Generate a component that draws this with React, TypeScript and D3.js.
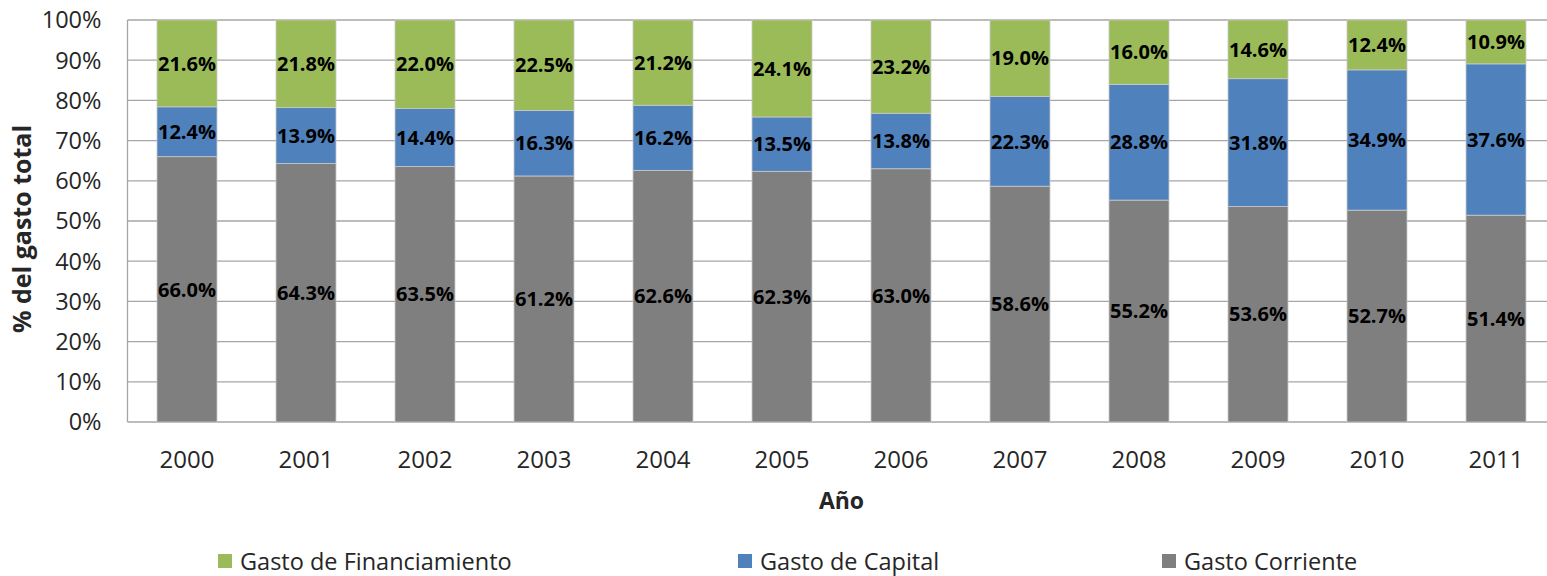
import React from 'react';
import * as d3 from 'd3';

const years = ['2000', '2001', '2002', '2003', '2004', '2005', '2006', '2007', '2008', '2009', '2010', '2011'];
const gastoCorriente = [66.0, 64.3, 63.5, 61.2, 62.6, 62.3, 63.0, 58.6, 55.2, 53.6, 52.7, 51.4];
const gastoCapital = [12.4, 13.9, 14.4, 16.3, 16.2, 13.5, 13.8, 22.3, 28.8, 31.8, 34.9, 37.6];
const gastoFinanciamiento = [21.6, 21.8, 22.0, 22.5, 21.2, 24.1, 23.2, 19.0, 16.0, 14.6, 12.4, 10.9];
const yTicks = [0, 0.1, 0.2, 0.3, 0.4, 0.5, 0.6, 0.7, 0.8, 0.9, 1];

const seriesKeys = ['corriente', 'capital', 'financiamiento'];
const seriesNames = {
  corriente: 'Gasto Corriente',
  capital: 'Gasto de Capital',
  financiamiento: 'Gasto de Financiamiento',
};
const colors = {
  corriente: '#7f7f7f',
  capital: '#4f81bd',
  financiamiento: '#9bbb59',
};

const W = 1547;
const H = 576;
const margin = { left: 127.5, top: 20, bottom: 154 };
const plotW = 12 * 119;
const plotH = H - margin.top - margin.bottom;
const FONT = '"Open Sans", Lato, sans-serif';

const App = () => {
  const table = years.map((y, i) => ({
    year: y,
    corriente: gastoCorriente[i],
    capital: gastoCapital[i],
    financiamiento: gastoFinanciamiento[i],
  }));
  // 100% stacked, like the original
  const stacked = d3.stack().keys(seriesKeys).offset(d3.stackOffsetExpand)(table as any);

  const x = d3.scaleBand().domain(years).range([0, plotW]).paddingInner(0.496).paddingOuter(0.248);
  const y = d3.scaleLinear().domain([0, 1]).range([plotH, 0]);
  const fmt = d3.format('.0%');

  const legendItems = [
    { key: 'financiamiento', x: 218 },
    { key: 'capital', x: 738 },
    { key: 'corriente', x: 1162 },
  ];

  return (
    <svg width={W} height={H} style={{ position: 'absolute', left: 0, top: 0, fontFamily: FONT }}>
      <rect width={W} height={H} fill="#fff" />
      <g transform={`translate(${margin.left},${margin.top})`}>
        {yTicks.map((t) => (
          <g key={t}>
            <line x1={0} x2={plotW} y1={y(t)} y2={y(t)} stroke="#a6a6a6" strokeWidth={1.3} />
            <text x={-26} y={y(t)} dy="0.36em" textAnchor="end" fontSize={23.5} fill="#262626">
              {fmt(t)}
            </text>
          </g>
        ))}
        <line x1={0} x2={0} y1={0} y2={plotH} stroke="#a6a6a6" strokeWidth={1.3} />
        {stacked.map((s) => (
          <g key={s.key}>
            {s.map((d, i) => (
              <g key={years[i]}>
                <rect
                  x={x(years[i])}
                  y={y(d[1])}
                  width={x.bandwidth()}
                  height={y(d[0]) - y(d[1])}
                  fill={colors[s.key]}
                  stroke="#c8c8c8"
                  strokeWidth={0.8}
                />
                <text
                  x={(x(years[i]) as number) + x.bandwidth() / 2}
                  y={y((d[0] + d[1]) / 2)}
                  dy="0.36em"
                  textAnchor="middle"
                  fontSize={20}
                  fontWeight="bold"
                  fill="#000"
                >
                  {(table[i][s.key] as number).toFixed(1)}%
                </text>
              </g>
            ))}
          </g>
        ))}
        {years.map((yr) => (
          <text
            key={yr}
            x={(x(yr) as number) + x.bandwidth() / 2}
            y={plotH + 37}
            dy="0.36em"
            textAnchor="middle"
            fontSize={24}
            fill="#262626"
          >
            {yr}
          </text>
        ))}
        <text x={6 * 119} y={plotH + 79} dy="0.36em" textAnchor="middle" fontSize={23} fontWeight="bold" fill="#262626">
          Año
        </text>
      </g>
      <text
        transform={`translate(22,${margin.top + plotH / 2 + 8}) rotate(-90)`}
        dy="0.36em"
        textAnchor="middle"
        fontSize={25}
        fontWeight="bold"
        fill="#262626"
      >
        % del gasto total
      </text>
      {legendItems.map((l) => (
        <g key={l.key}>
          <rect x={l.x} y={554} width={14} height={14} fill={colors[l.key]} />
          <text x={l.x + 22} y={569.5} fontSize={23.5} fill="#262626">
            {seriesNames[l.key]}
          </text>
        </g>
      ))}
    </svg>
  );
};

export default App;
